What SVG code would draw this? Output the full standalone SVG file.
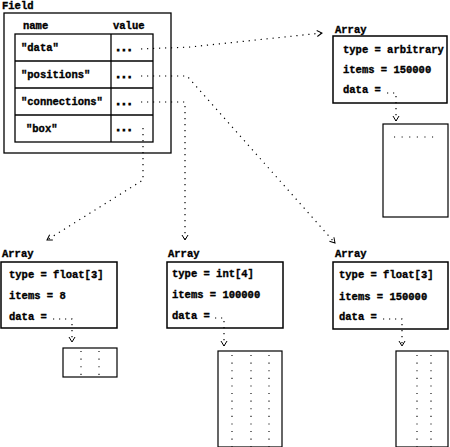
<svg xmlns="http://www.w3.org/2000/svg" width="450" height="447" viewBox="0 0 450 447">
<style>
text{font-family:"Liberation Mono","DejaVu Sans Mono",monospace;font-weight:bold;font-size:10.5px;fill:#000;stroke:#000;stroke-width:0.35}
.dots{stroke-width:1;letter-spacing:-0.6px}
.box{fill:#fff;stroke:#000;stroke-width:1.5}
.tbl{fill:none;stroke:#000;stroke-width:1.3}
.dbox{fill:#fff;stroke:#000;stroke-width:1.2}
.con{fill:none;stroke:#000;stroke-width:1.2;stroke-dasharray:1.2 4.8}
.grid{fill:none;stroke:#000;stroke-width:1.1;stroke-dasharray:1.1 6.5}
</style>
<defs>
<marker id="arr" markerUnits="userSpaceOnUse" markerWidth="10" markerHeight="10" refX="5" refY="3" orient="auto" overflow="visible">
<path d="M0,0 L5,3 L0,6" fill="none" stroke="#000" stroke-width="1"/>
</marker>
</defs>
<rect width="450" height="447" fill="#fff"/>

<g id="field">
<text x="2" y="9">Field</text>
<rect class="tbl" x="4" y="13" width="167" height="140"/>
<text x="23" y="29">name</text>
<text x="113" y="29">value</text>
<rect class="tbl" x="15" y="34" width="138" height="108"/>
<line class="tbl" x1="111" y1="34" x2="111" y2="142"/>
<line class="tbl" x1="15" y1="61" x2="153" y2="61"/>
<line class="tbl" x1="15" y1="88" x2="153" y2="88"/>
<line class="tbl" x1="15" y1="115" x2="153" y2="115"/>
<text x="21" y="51">"data"</text>
<text x="21" y="78">"positions"</text>
<text x="21" y="105">"connections"</text>
<text x="26" y="132">"box"</text>
<text class="dots" x="115" y="51">...</text>
<text class="dots" x="115" y="78">...</text>
<text class="dots" x="115" y="105">...</text>
<text class="dots" x="115" y="131">...</text>
</g>

<g id="array-data">
<text x="335" y="33">Array</text>
<rect class="box" x="333" y="36" width="114" height="67"/>
<text x="343" y="53">type = arbitrary</text>
<text x="343" y="73">items = 150000</text>
<text x="343" y="93">data =</text>
<rect class="dbox" x="383" y="124" width="65" height="93"/>
<line class="grid" x1="394" y1="137" x2="438" y2="137" stroke-dasharray="1.1 4.9"/>
</g>

<g id="array-box">
<text x="2" y="257">Array</text>
<rect class="box" x="1" y="262" width="116" height="66"/>
<text x="9" y="278">type = float[3]</text>
<text x="9" y="299">items = 8</text>
<text x="9" y="320">data =</text>
<rect class="dbox" x="63" y="348" width="54" height="29"/>
<line class="grid" x1="81" y1="351" x2="81" y2="377"/>
<line class="grid" x1="99" y1="351" x2="99" y2="377"/>
</g>

<g id="array-connections">
<text x="168" y="257">Array</text>
<rect class="box" x="167" y="262" width="116" height="66"/>
<text x="172" y="277">type = int[4]</text>
<text x="172" y="298">items = 100000</text>
<text x="172" y="319">data =</text>
<rect class="dbox" x="218" y="351" width="64" height="96"/>
<line class="grid" x1="232" y1="355" x2="232" y2="447"/>
<line class="grid" x1="251" y1="355" x2="251" y2="447"/>
<line class="grid" x1="269" y1="355" x2="269" y2="447"/>
</g>

<g id="array-positions">
<text x="335" y="257">Array</text>
<rect class="box" x="333" y="262" width="115" height="67"/>
<text x="339" y="278">type = float[3]</text>
<text x="339" y="300">items = 150000</text>
<text x="339" y="320">data =</text>
<rect class="dbox" x="396" y="351" width="52" height="96"/>
<line class="grid" x1="417" y1="355" x2="417" y2="447"/>
<line class="grid" x1="431" y1="355" x2="431" y2="447"/>
</g>

<g id="connectors">
<path class="con" d="M141,49 L190,47 L322,33" marker-end="url(#arr)"/>
<path class="con" d="M141,76 L187,76 L335,243" marker-end="url(#arr)"/>
<path class="con" d="M141,102 L185,102 L185,240" marker-end="url(#arr)"/>
<path class="con" d="M143,128 L143,180 L47,240" marker-end="url(#arr)"/>
<path class="con" d="M387,93 L396,93 L396,121" marker-end="url(#arr)"/>
<path class="con" d="M53,319 L72,319 L72,342" marker-end="url(#arr)"/>
<path class="con" d="M215,318 L224,318 L224,346" marker-end="url(#arr)"/>
<path class="con" d="M383,319 L402,319 L402,346" marker-end="url(#arr)"/>
</g>
</svg>
